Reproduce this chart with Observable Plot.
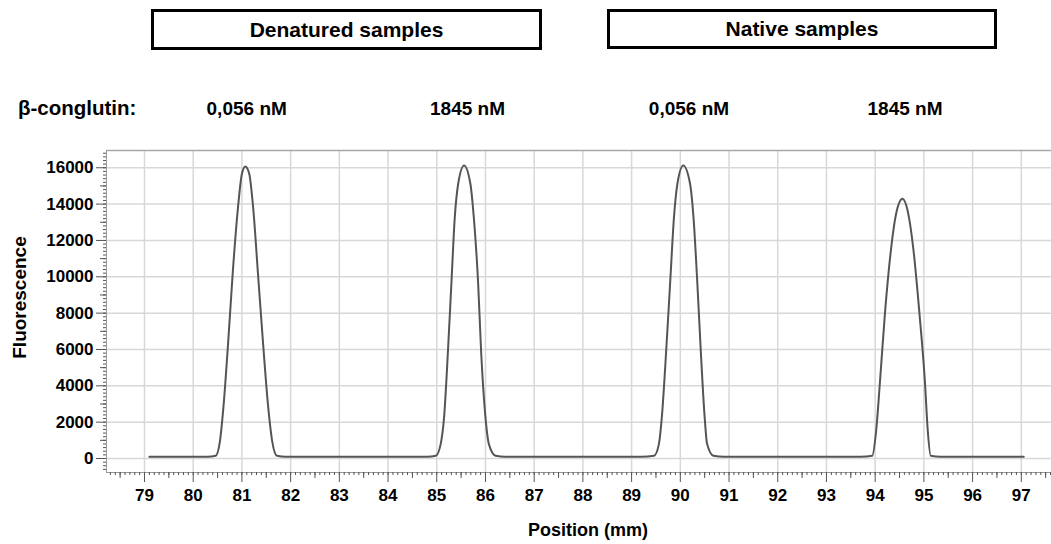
<!DOCTYPE html>
<html><head><meta charset="utf-8">
<script src="https://cdn.jsdelivr.net/npm/d3@7"></script>
<script src="https://cdn.jsdelivr.net/npm/@observablehq/plot@0.6"></script>
<style>
html,body{margin:0;padding:0;background:#fff;}
#wrap{position:relative;width:1051px;height:544px;font-family:"Liberation Sans",Arial,sans-serif;font-weight:bold;color:#000;overflow:hidden;}
#wrap svg{position:absolute;left:0;top:0;}
.box{position:absolute;box-sizing:border-box;border:3px solid #000;display:flex;align-items:center;justify-content:center;font-size:21px;background:#fff;}
.lab{position:absolute;font-size:19px;line-height:1;white-space:nowrap;transform:translate(-50%,-50%);}
</style></head><body><div id="wrap"></div>
<script>
// ---- data ----
const groupNames = ["Denatured samples", "Native samples"];
const compoundLabel = "β-conglutin:";
const concLabels = ["0,056 nM", "1845 nM", "0,056 nM", "1845 nM"];
const xTicks = [79, 80, 81, 82, 83, 84, 85, 86, 87, 88, 89, 90, 91, 92, 93, 94, 95, 96, 97];
const yTicks = [0, 2000, 4000, 6000, 8000, 10000, 12000, 14000, 16000];
const xLabel = "Position (mm)";
const yLabel = "Fluorescence";
// trace: position (mm) and fluorescence
const positionMm = [
  79.10, 80.30,
  80.46, 80.55, 80.62, 80.72, 80.81, 80.92, 81.00, 81.07, 81.15, 81.23, 81.33, 81.43, 81.54, 81.62, 81.72,
  81.90, 84.80,
  84.98, 85.08, 85.15, 85.23, 85.30, 85.37, 85.44, 85.56, 85.69, 85.76, 85.85, 85.91, 86.00, 86.07, 86.21,
  86.40, 89.20,
  89.46, 89.56, 89.62, 89.71, 89.79, 89.87, 89.94, 90.06, 90.20, 90.27, 90.35, 90.42, 90.50, 90.55, 90.68,
  90.90, 93.70,
  93.94, 94.02, 94.10, 94.20, 94.33, 94.43, 94.56, 94.68, 94.78, 94.91, 95.02, 95.08, 95.14,
  95.35, 97.05
];
const fluorescence = [
  100, 100,
  150, 975, 2810, 6485, 10160, 13830, 15670, 16070, 15670, 13830, 10160, 6485, 2810, 975, 150,
  100, 100,
  150, 793, 2260, 5930, 9610, 13280, 15120, 16130, 15120, 13280, 9610, 5930, 2260, 793, 150,
  100, 100,
  150, 793, 2260, 5930, 9610, 13280, 15120, 16130, 15120, 13280, 9610, 5930, 2260, 793, 150,
  100, 100,
  150, 1526, 4281, 7956, 11625, 13465, 14290, 13465, 11625, 7956, 4281, 1526, 150,
  100, 100
];

// ---- chart ----
const trace = positionMm.map((x, i) => ({x, y: fluorescence[i]}));
const xDom = [78.22, 97.62];
const yDom = [-770, 16950];
const minorX = d3.range(783, 977).map(d => d / 10);
const midX = d3.range(785, 977, 10).map(d => d / 10);
const minorY = d3.range(-600, 16951, 200);
const midY = d3.range(1000, 16951, 2000);
const font = "'Liberation Sans', Arial, sans-serif";

const chart = Plot.plot({
  width: 1051, height: 544,
  marginTop: 150, marginLeft: 106, marginRight: 0, marginBottom: 72,
  x: {domain: xDom, label: null},
  y: {domain: yDom, label: null},
  style: {fontFamily: font, fontWeight: "bold", fontSize: "17px", color: "#000", background: "transparent", overflow: "visible"},
  marks: [
    Plot.gridX(xTicks, {stroke: "#d8d8d8", strokeOpacity: 1, strokeWidth: 1.5}),
    Plot.gridY(yTicks, {stroke: "#d8d8d8", strokeOpacity: 1, strokeWidth: 1.5}),
    Plot.ruleY([yDom[1]], {stroke: "#a8a8a8", strokeWidth: 1.5}),
    Plot.ruleY([yDom[0]], {stroke: "#999", strokeWidth: 1}),
    Plot.ruleX([xDom[0]], {stroke: "#999", strokeWidth: 1}),
    Plot.axisX(minorX, {tickSize: 3, tickFormat: () => "", stroke: "#555", label: null}),
    Plot.axisX(midX, {tickSize: 6, tickFormat: () => "", stroke: "#555", label: null}),
    Plot.axisX(xTicks, {tickSize: 10, tickPadding: 6, stroke: "#555", fill: "#000", label: null}),
    Plot.axisY(minorY, {tickSize: 3, tickFormat: () => "", stroke: "#555", label: null}),
    Plot.axisY(midY, {tickSize: 6, tickFormat: () => "", stroke: "#555", label: null}),
    Plot.axisY(yTicks, {tickSize: 10, tickPadding: 3, stroke: "#555", fill: "#000", tickFormat: d => String(d), label: null}),
    Plot.line(trace, {x: "x", y: "y", curve: "monotone-x", stroke: "#555", strokeWidth: 2}),
    Plot.text([yLabel], {frameAnchor: "left", textAnchor: "middle", dx: -87, dy: -14, rotate: -90, fontSize: 19, fontWeight: "bold", fill: "#000"}),
    Plot.text([xLabel], {frameAnchor: "bottom", dx: 9, dy: 63, fontSize: 18, fontWeight: "bold", fill: "#000"})
  ]
});

const wrap = document.getElementById("wrap");
wrap.appendChild(chart);

// header
const boxes = [
  {left: 151, top: 9, width: 391, height: 41},
  {left: 607, top: 9, width: 390, height: 39.5}
];
groupNames.forEach((g, i) => {
  const d = document.createElement("div");
  d.className = "box";
  Object.assign(d.style, {left: boxes[i].left + "px", top: boxes[i].top + "px", width: boxes[i].width + "px", height: boxes[i].height + "px"});
  d.textContent = g;
  wrap.appendChild(d);
});
const comp = document.createElement("div");
comp.className = "lab";
comp.style.left = "18px"; comp.style.top = "107.5px"; comp.style.transform = "translate(0,-50%)";
comp.style.fontSize = "20.5px";
comp.textContent = compoundLabel;
wrap.appendChild(comp);
const concPx = [246.7, 467.5, 689, 905];
concLabels.forEach((c, i) => {
  const d = document.createElement("div");
  d.className = "lab";
  d.style.left = concPx[i] + "px"; d.style.top = "107.5px";
  d.textContent = c;
  wrap.appendChild(d);
});
</script></body></html>
